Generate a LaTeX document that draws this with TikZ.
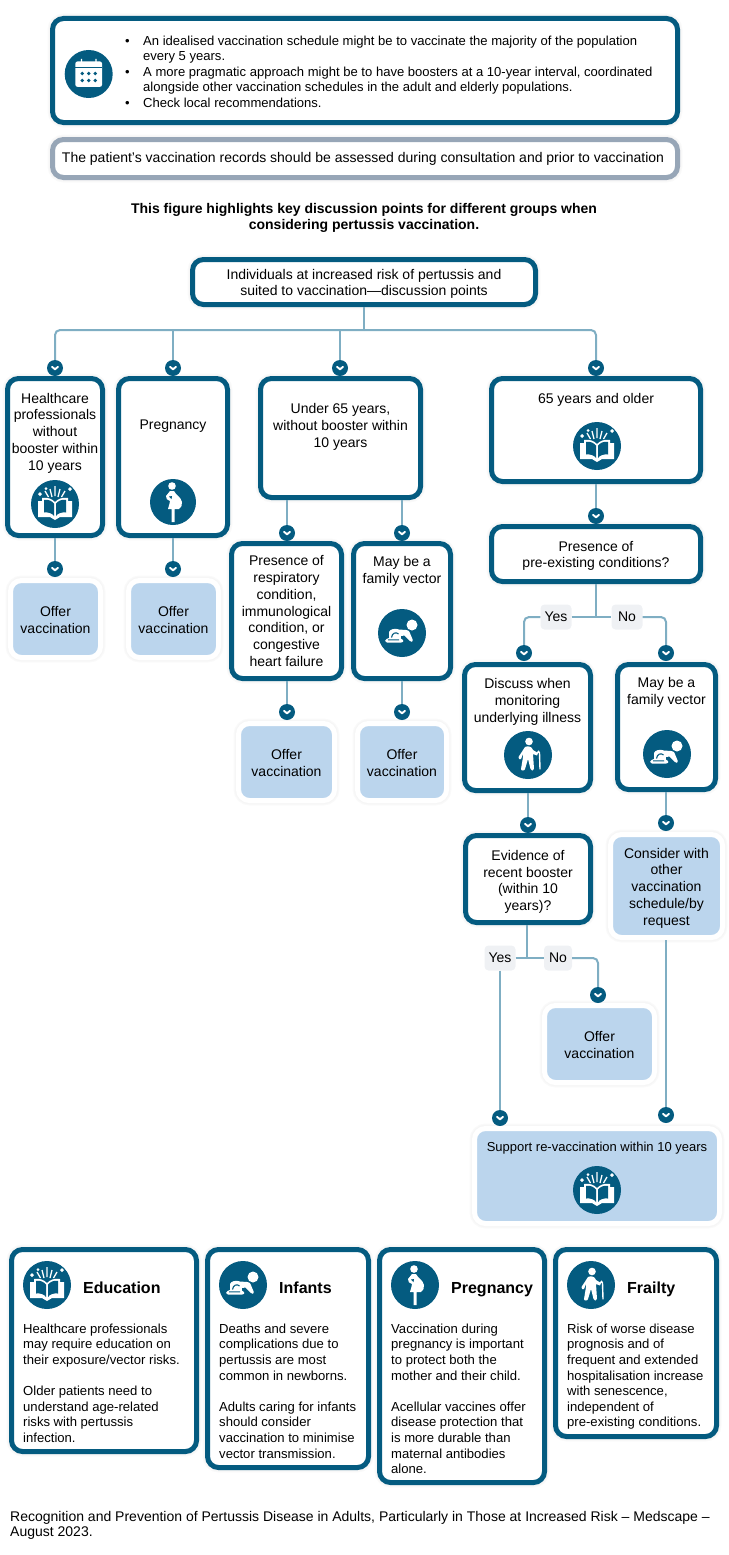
\documentclass[tikz,border=0pt]{standalone}
\usepackage{fontspec}
\setmainfont{Liberation Sans}
\definecolor{tealbox}{HTML}{045B80}
\definecolor{greybox}{HTML}{97A6B7}
\definecolor{conncol}{HTML}{7FAEC3}
\definecolor{offercol}{HTML}{BBD5ED}
\definecolor{tagcol}{HTML}{EFF1F4}
\tikzset{
halo/.style={preaction={draw=black!2,line width=10pt},preaction={draw=black!3.5,line width=7.5pt}},
txtbox/.style={draw=tealbox, line width=5pt, fill=white, rounded corners=11pt, inner sep=1pt, align=center, halo},
greyrec/.style={txtbox, draw=greybox},
offer/.style={draw=white, line width=5pt, fill=offercol, rounded corners=11pt, inner sep=1pt, align=center, text height=29pt, halo},
conn/.style={draw=conncol, line width=2pt, rounded corners=5pt},
tag/.style={fill=tagcol, rounded corners=4pt, inner sep=0pt, minimum width=31pt, minimum height=25pt},
chev/.style={circle, fill=tealbox, minimum size=16pt, inner sep=0pt, path picture={
 \draw[white, line width=1.9pt, line cap=round, line join=round]
 ([shift={(-3,-1.2)}]path picture bounding box.center) -- ([shift={(0,1.3)}]path picture bounding box.center) -- ([shift={(3,-1.2)}]path picture bounding box.center);}},
iconc/.style={circle, fill=tealbox, minimum size=48pt, inner sep=0pt},
head/.style={font=\fontsize{16}{18}\selectfont\bfseries, anchor=base west, inner sep=0pt},
body/.style={anchor=north west, inner sep=0pt, align=left, font=\fontsize{13.1}{15.6}\selectfont},
bookicon/.pic={
 \fill[white] (-17,-3) -- (-17,13) -- (-5,13) .. controls (-3,13) and (-2,16) .. (0,16) .. controls (2,16) and (3,13) .. (5,13) -- (17,13) -- (17,-3) -- (13,-3) -- (13,-6) .. controls (7,-7) and (3,-5) .. (0,-2) .. controls (-3,-5) and (-7,-7) .. (-13,-6) -- (-13,-3) -- cycle;
 \fill[tealbox] (-11,-4) .. controls (-7,-5) and (-3,-3) .. (-1,-0.5) -- (-1,12) .. controls (-3,9) and (-7,8) .. (-11,8.5) -- cycle;
 \fill[tealbox] (11,-4) .. controls (7,-5) and (3,-3) .. (1,-0.5) -- (1,12) .. controls (3,9) and (7,8) .. (11,8.5) -- cycle;
 \draw[white, line width=1.3pt] (0,-18) -- (0,-8) (-5,-15) -- (-3,-7) (5,-15) -- (3,-7) (-10,-13) -- (-6.5,-7) (10,-13) -- (6.5,-7);
 \fill[white] (-15,-12) -- (-13,-10) -- (-15,-8) -- (-17,-10) -- cycle (15,-17) -- (17,-15) -- (15,-13) -- (13,-15) -- cycle (-9,-17) -- (-7.5,-15.5) -- (-9,-14) -- (-10.5,-15.5) -- cycle;},
babyicon/.pic={
 \fill[white] (10,-8) circle (5.5);
 \fill[white] (-13,-1) .. controls (-12,-4) and (-7,-5) .. (-3,-3.5) -- (4,-3) .. controls (6,-3) and (7,-2) .. (7.5,-1) -- (10.8,7) .. controls (11.3,9) and (9,9.5) .. (8,8) -- (2.5,2.5) -- (-1,3) .. controls (-2,5) and (-1,6.5) .. (1,7) .. controls (2,8.5) and (1,9.5) .. (-1,9.5) -- (-15,9.5) .. controls (-17,9.5) and (-18,6.5) .. (-15.5,6) -- (-13,5) -- cycle;
 \draw[tealbox, line width=1.1pt] (-10.5,4.5) .. controls (-10,0) and (-6,-1.5) .. (-3.5,1) (-14,6.8) -- (-3,6.8);},
pregicon/.pic={
 \fill[white] (-1,-16) circle (3.8);
 \fill[white] (-3,-11) -- (1,-11) .. controls (2,-8) and (8,-5) .. (9,0) .. controls (9.5,3) and (8,6) .. (6,7) -- (1.5,7) -- (1.5,20) -- (-1.5,20) -- (-1.5,7) -- (-5,7) .. controls (-4,3) and (-3,1) .. (-3,-1) .. controls (-5,-2) and (-8,-3) .. (-7,-6) -- cycle;
 \fill[tealbox] (-4,-5.5) -- (-1.5,-3) -- (-1,-6) -- cycle;},
frailicon/.pic={
 \fill[white] (1,-13.5) circle (3.8);
 \fill[white] (-3,-8) .. controls (0,-9.5) and (4,-8.5) .. (5,-5) -- (10,-2) -- (9,0.5) -- (5,-1) -- (6,14) .. controls (6,16) and (2.5,16) .. (2.5,14) -- (0,4) -- (-3,14) .. controls (-3,16) and (-7.5,16) .. (-7,14) -- (-5,2) -- (-5,-1) -- (-7,4) .. controls (-8,5) and (-10,4) .. (-9.5,2) -- cycle;
 \draw[white, line width=1.4pt, line cap=round] (9,-2) .. controls (10,-4) and (11.5,-4) .. (11.5,-2) -- (12,14);},
calicon/.pic={
 \fill[white, rounded corners=2pt] (-13.3,-12.5) rectangle (13.3,12.8);
 \fill[tealbox] (-13.3,-6.8) rectangle (13.3,-5.6);
 \fill[white] (-7.8,-15) rectangle (-6.6,-11) (6.6,-15) rectangle (7.8,-11);
 \foreach \dx in {-6.5,0,6.5}{\foreach \dy in {-0.5,6.5}{\fill[tealbox] (\dx,\dy) circle (1.8);}}}
}
\begin{document}
\begin{tikzpicture}[x=1pt, y=-1pt, font=\fontsize{14}{16.75}\selectfont]
\useasboundingbox (0,0) rectangle (728,1555);
% header boxes
\node[txtbox, minimum width=625pt, minimum height=104pt] (topbox) at (365,70.5){};
\node[iconc] (calcirc) at (88.7,74){};
\pic at (calcirc) {calicon};
\node[anchor=west, inner sep=0pt, font=\fontsize{13.05}{15.55}\selectfont] (topnotes) at (125,73) {\begin{tabular}{@{}p{18pt}@{}l@{}}
•& An idealised vaccination schedule might be to vaccinate the majority of the population\\
& every 5 years.\\
•& A more pragmatic approach might be to have boosters at a 10-year interval, coordinated\\
& alongside other vaccination schedules in the adult and elderly populations.\\
•& Check local recommendations.
\end{tabular}};
\node[greyrec, minimum width=625pt, minimum height=38pt] (records) at (365,158.5){The patient’s vaccination records should be assessed during consultation and prior to vaccination\hspace{4pt}};
\node[align=center, inner sep=0pt, font=\fontsize{14}{15.9}\selectfont\bfseries] (figtitle) at (364,218){This figure highlights key discussion points for different groups when\\considering pertussis vaccination.};
\node[txtbox, minimum width=343pt, minimum height=45pt, text height=30.8pt] (main) at (364,282){Individuals at increased risk of pertussis and\\suited to vaccination—discussion points};
% first row
\node[txtbox, minimum width=95pt, minimum height=157pt, text depth=51pt] (hcp) at (55,457){Healthcare\\professionals\\without\\booster within\\10 years};
\node[txtbox, minimum width=109pt, minimum height=157pt, text depth=64pt] (preg) at (173,457){Pregnancy};
\node[txtbox, minimum width=160pt, minimum height=119pt, text depth=25.5pt] (under) at (340.5,438){Under 65 years,\\without booster within\\10 years};
\node[txtbox, minimum width=209pt, minimum height=103pt, text depth=64pt] (older) at (596,430){65 years and older};
\node[iconc] (hcpicon) at (55,504){};
\pic at (hcpicon) {bookicon};
\node[iconc, minimum size=46pt] (pregicon) at (173,502){};
\pic at (pregicon) {pregicon};
\node[iconc] (oldericon) at (597,446){};
\pic at (oldericon) {bookicon};
\node[chev] (cha) at (55,368){};
\node[chev] (chb) at (173,368){};
\node[chev] (chc) at (340,368){};
\node[chev] (chd) at (596,368){};
\coordinate (bus) at (364,330);
\draw[conn] (main.south) -- (bus);
\draw[conn] (bus) -| (cha);
\draw[conn] (bus) -| (chd);
\draw[conn] (chb |- bus) -- (chb);
\draw[conn] (chc |- bus) -- (chc);
% offers left
\node[offer, minimum width=90pt, minimum height=77pt] (offera) at (55.5,619){Offer\\vaccination};
\node[offer, minimum width=90pt, minimum height=77pt] (offerb) at (173.5,619){Offer\\vaccination};
\node[chev] (che) at (55,569){};
\node[chev] (chf) at (173,569){};
\draw[conn] (hcp.south) -- (che);
\draw[conn] (preg.south) -- (chf);
% under 65
\node[txtbox, minimum width=110pt, minimum height=135pt] (resp) at (286.5,611){Presence of\\respiratory\\condition,\\immunological\\condition, or\\congestive\\heart failure};
\node[txtbox, minimum width=97pt, minimum height=135pt, text depth=82.75pt] (vectora) at (402,611){May be a\\family vector};
\node[iconc] (babya) at (402,633){};
\pic at (babya) {babyicon};
\node[chev] (chg) at (287,533){};
\node[chev] (chh) at (402,533){};
\draw[conn] (chg |- under.south) -- (chg);
\draw[conn] (chh |- under.south) -- (chh);
\node[offer, minimum width=96pt, minimum height=77pt] (offerc) at (286.5,762){Offer\\vaccination};
\node[offer, minimum width=89pt, minimum height=77pt] (offerd) at (402,762){Offer\\vaccination};
\node[chev] (chi) at (287,712){};
\node[chev] (chj) at (402,712){};
\draw[conn] (chi |- resp.south) -- (chi);
\draw[conn] (vectora.south) -- (chj);
% 65 and older
\node[txtbox, minimum width=209pt, minimum height=55pt, text height=30.8pt] (cond) at (596,554){Presence of\\pre-existing conditions?};
\node[chev] (chk) at (596,516){};
\draw[conn] (older.south) -- (chk);
\coordinate (splita) at (596,617);
\node[tag] (yesa) at (556,617){Yes};
\node[tag] (noa) at (627,617){No};
\node[txtbox, minimum width=126pt, minimum height=126pt, text depth=54.5pt] (discuss) at (527.5,727.5){Discuss when\\monitoring\\underlying illness};
\node[txtbox, minimum width=98pt, minimum height=125pt, text depth=72.75pt] (vectorb) at (666.5,727){May be a\\family vector};
\node[chev] (chl) at (524,653){};
\node[chev] (chm) at (666,653){};
\draw[conn] (cond.south) -- (splita);
\draw[conn] (yesa) -- (noa);
\draw[conn] (yesa.west) -| (chl);
\draw[conn] (noa.east) -| (chm);
\node[iconc] (frailcirc) at (528,755){};
\pic at (frailcirc) {frailicon};
\node[iconc] (babyb) at (667,754){};
\pic at (babyb) {babyicon};
\node[txtbox, minimum width=125pt, minimum height=87pt, text height=66.25pt] (evid) at (528,879){Evidence of\\recent booster\\(within 10\\years)?};
\node[offer, minimum width=112pt, minimum height=103pt, text height=81pt] (consider) at (666.5,886){Consider with\\other\\vaccination\\schedule/by\\request};
\node[chev] (chn) at (528,825){};
\node[chev] (cho) at (666,823){};
\draw[conn] (chn |- discuss.south) -- (chn);
\draw[conn] (cho |- vectorb.south) -- (cho);
\coordinate (splitb) at (527,958);
\node[tag] (yesb) at (500,958){Yes};
\node[tag, minimum width=28pt] (nob) at (558,958){No};
\node[offer, minimum width=110pt, minimum height=77pt] (offere) at (599.5,1044){Offer\\vaccination\hspace{5pt}};
\node[offer, minimum width=245pt, minimum height=95pt, text height=9.5pt, text depth=58pt, font=\fontsize{13}{16}\selectfont] (support) at (597,1176){Support re-vaccination within 10 years};
\node[iconc] (supicon) at (597,1190){};
\pic at (supicon) {bookicon};
\node[chev] (chp) at (500,1118){};
\node[chev] (chq) at (598,995){};
\node[chev] (chr) at (666,1115){};
\draw[conn] (evid.south -| splitb) -- (splitb);
\draw[conn] (yesb.east) -- (nob.west);
\draw[conn] (yesb.south) -- (chp);
\draw[conn] (nob.east) -| (chq);
\draw[conn] (chr |- consider.south) -- (chr);
% info cards
\node[txtbox, minimum width=185pt, minimum height=202pt] (cardedu) at (104,1350.5){};
\node[txtbox, minimum width=161pt, minimum height=218pt] (cardinf) at (288,1358.5){};
\node[txtbox, minimum width=165pt, minimum height=233pt] (cardpreg) at (462,1366){};
\node[txtbox, minimum width=161pt, minimum height=187pt] (cardfrail) at (636,1343){};
\node[iconc] (eduicon) at (47,1285){};
\pic at (eduicon) {bookicon};
\node[iconc] (inficon) at (243,1285){};
\pic at (inficon) {babyicon};
\node[iconc] (prgicon) at (415,1285){};
\pic at (prgicon) {pregicon};
\node[iconc] (fraicon) at (591,1285){};
\pic at (fraicon) {frailicon};
\node[head] (edutitle) at (83,1293){Education};
\node[head] (inftitle) at (279,1293){Infants};
\node[head] (pretitle) at (451,1293){Pregnancy};
\node[head] (fratitle) at (627,1293){Frailty};
\node[body] (edutext) at (23,1323.5){Healthcare professionals\\may require education on\\their exposure/vector risks.\\[15.6pt]Older patients need to\\understand age-related\\risks with pertussis\\infection.};
\node[body] (inftext) at (219,1323.5){Deaths and severe\\complications due to\\pertussis are most\\common in newborns.\\[15.6pt]Adults caring for infants\\should consider\\vaccination to minimise\\vector transmission.};
\node[body] (pretext) at (391,1323.5){Vaccination during\\pregnancy is important\\to protect both the\\mother and their child.\\[15.6pt]Acellular vaccines offer\\disease protection that\\is more durable than\\maternal antibodies\\alone.};
\node[body] (fratext) at (567,1323.5){Risk of worse disease\\prognosis and of\\frequent and extended\\hospitalisation increase\\with senescence,\\independent of\\pre-existing conditions.};
\node[body, font=\fontsize{14}{15.5}\selectfont] (source) at (10,1511){Recognition and Prevention of Pertussis Disease in Adults, Particularly in Those at Increased Risk – Medscape –\\August 2023.};
\end{tikzpicture}
\end{document}
